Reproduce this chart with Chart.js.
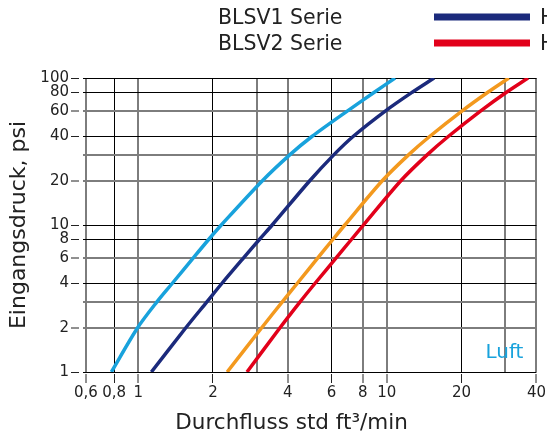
<!DOCTYPE html>
<html>
<head>
<meta charset="utf-8">
<script src="https://cdn.jsdelivr.net/npm/chart.js@4/dist/chart.umd.min.js"></script>
<style>
  html, body { margin: 0; padding: 0; background: #ffffff; }
  #wrap { width: 547px; height: 437px; }
</style>
</head>
<body>
<div id="wrap"><canvas id="c" width="547" height="437"></canvas></div>
<script>
// ---- data ----
const pressurePsi   = [1, 2, 3, 4, 6, 8, 10, 20, 30, 40, 60, 80, 100];
const flowLightBlue = [0.78, 0.995, 1.19, 1.37, 1.67, 1.925, 2.16, 3.16, 4.07, 5.0, 6.98, 8.91, 10.8];
const flowNavy      = [1.13, 1.555, 1.89, 2.17, 2.66, 3.08, 3.46, 4.9, 6.12, 7.32, 9.92, 12.66, 15.5];
const flowOrange    = [2.28, 3.14, 3.8, 4.36, 5.29, 6.08, 6.78, 9.59, 12.23, 14.87, 20.16, 25.5, 31.0];
const flowRed       = [2.74, 3.72, 4.48, 5.14, 6.27, 7.22, 8.06, 11.39, 14.53, 17.67, 23.95, 30.3, 37.0];

const xTickValues = [0.616, 0.8, 1, 2, 3, 4, 6, 8, 10, 20, 30, 40];
const xTickLabels = ['0,6', '0,8', '1', '2', '', '4', '6', '8', '10', '20', '', '40'];
const yTickValues = [1, 2, 3, 4, 6, 8, 10, 20, 30, 40, 60, 80, 100];
const yTickLabels = ['1', '2', '', '4', '6', '8', '10', '20', '', '40', '60', '80', '100'];

const legendLabels = ['BLSV1 Serie', 'BLSV2 Serie'];
const legendTail = 'H';
const mediumLabel = 'Luft';
const xTitle = 'Durchfluss std ft\u00B3/min';
const yTitle = 'Eingangsdruck, psi';

// ---- styles ----
const C_LIGHT = '#18a2dc';
const C_NAVY = '#1b2a7c';
const C_ORANGE = '#f3991e';
const C_RED = '#e2001a';
const TXT = '#222222';
const GRAY = '#7d7d7d';
const FONT = '"DejaVu Sans", sans-serif';

function pts(xs) { return xs.map((v, i) => ({ x: v, y: pressurePsi[i] })); }

const darkX = new Set([0.8, 2, 6, 20]);
const darkY = new Set([1, 4, 8, 10, 40, 80, 100]);

const extras = {
  id: 'extras',
  afterDraw(chart) {
    const ctx = chart.ctx;
    const ca = chart.chartArea;
    ctx.save();
    const colors = [C_NAVY, C_RED];
    const baselines = [24, 50];
    ctx.font = '20.5px ' + FONT;
    ctx.textBaseline = 'alphabetic';
    ctx.textAlign = 'left';
    for (let i = 0; i < legendLabels.length; i++) {
      ctx.fillStyle = TXT;
      ctx.fillText(legendLabels[i], 218, baselines[i]);
      ctx.fillStyle = colors[i];
      ctx.fillRect(434, baselines[i] - 10.5, 96, 7);
      ctx.fillStyle = TXT;
      ctx.fillText(legendTail, 540, baselines[i]);
    }
    ctx.font = '20px ' + FONT;
    ctx.fillStyle = C_LIGHT;
    ctx.textAlign = 'right';
    ctx.fillText(mediumLabel, ca.right - 13, ca.bottom - 14);
    ctx.font = '21.5px ' + FONT;
    ctx.fillStyle = TXT;
    ctx.textAlign = 'center';
    ctx.fillText(xTitle, ca.left + (ca.right - ca.left) * 0.46, 429);
    ctx.restore();
  }
};

const ds = (label, xs, color) => ({
  label, data: pts(xs), borderColor: color, backgroundColor: color,
  borderWidth: 3.5, pointRadius: 0, pointHoverRadius: 0,
  tension: 0.3, fill: false, borderCapStyle: 'butt'
});

new Chart(document.getElementById('c'), {
  type: 'line',
  data: {
    datasets: [
      ds('BLSV1 Serie (Luft, hell)', flowLightBlue, C_LIGHT),
      ds('BLSV1 Serie', flowNavy, C_NAVY),
      ds('BLSV2 Serie (Luft, hell)', flowOrange, C_ORANGE),
      ds('BLSV2 Serie', flowRed, C_RED)
    ]
  },
  options: {
    responsive: false,
    animation: false,
    layout: { padding: { top: 78, right: 10, left: 0, bottom: 0 } },
    plugins: { legend: { display: false }, tooltip: { enabled: false } },
    scales: {
      x: {
        type: 'logarithmic',
        min: xTickValues[0],
        max: xTickValues[xTickValues.length - 1],
        afterBuildTicks: (s) => { s.ticks = xTickValues.map(v => ({ value: v })); },
        afterFit: (s) => { s.height = 65; },
        border: { display: false },
        grid: {
          color: (c) => darkX.has(c.tick && c.tick.value) ? '#000000' : GRAY,
          lineWidth: (c) => darkX.has(c.tick && c.tick.value) ? 1 : 2,
          tickLength: 11,
          tickColor: (c) => (xTickLabels[c.index] ? TXT : 'rgba(0,0,0,0)'),
          tickWidth: 1,
          tickBorderDash: [9, 100],
          tickBorderDashOffset: 107
        },
        ticks: {
          autoSkip: false, maxRotation: 0, minRotation: 0, padding: 1,
          color: TXT, font: { family: FONT, size: 15 },
          callback: (v, i) => xTickLabels[i]
        }
      },
      y: {
        type: 'logarithmic',
        min: yTickValues[0],
        max: yTickValues[yTickValues.length - 1],
        afterBuildTicks: (s) => { s.ticks = yTickValues.map(v => ({ value: v })); },
        afterFit: (s) => { s.width = 83; },
        border: { display: false },
        grid: {
          color: (c) => darkY.has(c.tick && c.tick.value) ? '#000000' : GRAY,
          lineWidth: (c) => darkY.has(c.tick && c.tick.value) ? 1 : 2,
          tickLength: 12,
          tickColor: (c) => (yTickLabels[c.index] ? TXT : 'rgba(0,0,0,0)'),
          tickWidth: 1,
          tickBorderDash: [8, 100]
        },
        ticks: {
          autoSkip: false, padding: 2,
          color: TXT, font: { family: FONT, size: 15 },
          callback: (v, i) => yTickLabels[i]
        },
        title: {
          display: true, text: yTitle, color: TXT,
          font: { family: FONT, size: 22 },
          padding: { top: 6, bottom: 0 }
        }
      }
    }
  },
  plugins: [extras]
});
</script>
</body>
</html>
